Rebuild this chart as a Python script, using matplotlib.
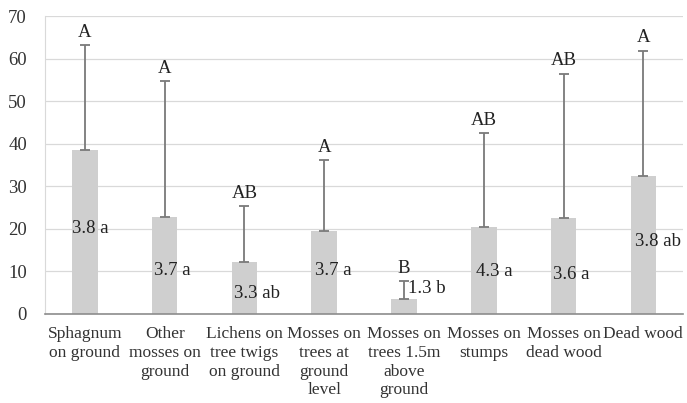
import numpy as np
import matplotlib.pyplot as plt

categories = ["Sphagnum\non ground", "Other\nmosses on\nground", "Lichens on\ntree twigs\non ground",
              "Mosses on\ntrees at\nground\nlevel", "Mosses on\ntrees 1.5m\nabove\nground",
              "Mosses on\nstumps", "Mosses on\ndead wood", "Dead wood"]
means = [38.5, 22.9, 12.3, 19.6, 3.5, 20.5, 22.5, 32.4]
upper = [63.2, 54.8, 25.4, 36.2, 7.8, 42.6, 56.5, 61.9]
group_letters = ["A", "A", "AB", "A", "B", "AB", "AB", "A"]
bar_labels = ["3.8 a", "3.7 a", "3.3 ab", "3.7 a", "1.3 b", "4.3 a", "3.6 a", "3.8 ab"]

# where the in-bar labels sit (data y) and their x shift in pixels
label_y = [20.0, 10.3, 4.9, 10.3, 5.9, 9.9, 9.2, 17.0]
label_dx = [-13, -11, -10, -9, 4, -8, -11, -8]

plt.rcParams['font.family'] = ['Liberation Serif', 'DejaVu Serif']

fig = plt.figure(figsize=(6.87, 4.03), dpi=100)
ax = fig.add_axes([0.0655, 0.221, 0.929, 0.739])

x = np.arange(len(categories))
means = np.array(means)
upper = np.array(upper)
ax.bar(x, means, width=0.32, color='#cfcfcf', zorder=2)
ax.errorbar(x, means, yerr=[np.zeros(len(x)), upper - means], fmt='none',
            ecolor='#7a7a7a', elinewidth=1.3, capsize=3.5, capthick=1.3, zorder=3)

for i in range(len(x)):
    ax.annotate(group_letters[i], (x[i], upper[i]), xytext=(0, 3), textcoords='offset points',
                ha='center', va='bottom', fontsize=13.5, color='#222222')
    ax.annotate(bar_labels[i], (x[i], label_y[i]), xytext=(label_dx[i] * 0.72, 0),
                textcoords='offset points', ha='left', va='center', fontsize=13.5, color='#222222')

ax.set_ylim(0, 70)
ax.set_xlim(-0.5, len(x) - 0.5)
ax.set_yticks(np.arange(0, 71, 10))
ax.set_xticks(x)
ax.set_xticklabels(categories, fontsize=12.5, linespacing=1.22, color='#333333')
ax.tick_params(axis='y', labelsize=13.5, length=0, pad=13, labelcolor='#333333')
ax.tick_params(axis='x', length=0, pad=9)
ax.grid(axis='y', color='#d9d9d9', linewidth=0.9, zorder=0)
for s in ['top', 'right']:
    ax.spines[s].set_visible(False)
ax.spines['left'].set_color('#d9d9d9')
ax.spines['bottom'].set_color('#8c8c8c')
ax.spines['bottom'].set_linewidth(1.2)

plt.savefig('out.png', dpi=100)
plt.close()
